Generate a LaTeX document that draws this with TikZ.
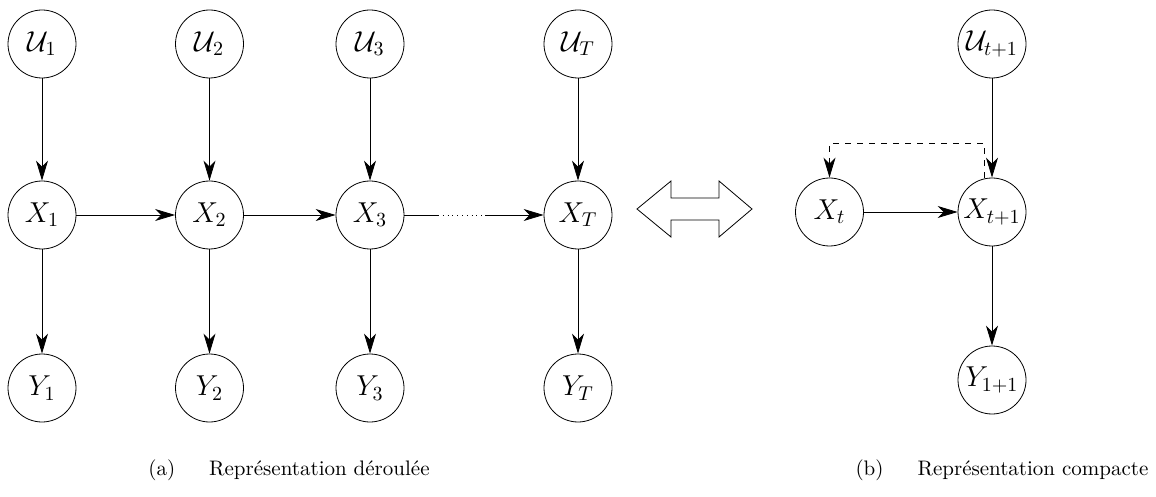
\documentclass[tikz,border=0pt]{standalone}
\usepackage{fontspec}
\usetikzlibrary{arrows.meta}
\begin{document}
\begin{tikzpicture}[x=0.5pt,y=-0.5pt,
    var/.style={draw, circle, minimum size=34pt, inner sep=0pt, font=\Large},
    edge/.style={-{Stealth[length=10pt,width=6pt,inset=3pt]}},
    caption/.style={font=\fontsize{10.5}{12}\selectfont}]
    \useasboundingbox (0,0) rectangle (1156,497);
    % unrolled chain
    \foreach \n/\x/\s in {1/42/1,2/209.5/2,3/370/3,4/578/T} {
        \node[var] (u\n) at (\x,44) {$\mathcal{U}_\s$};
        \node[var] (x\n) at (\x,215) {$X_\s$};
        \node[var] (y\n) at (\x,388) {$Y_\s$};
        \draw[edge] (u\n) -- (x\n);
        \draw[edge] (x\n) -- (y\n);
    }
    \draw[edge] (x1) -- (x2);
    \draw[edge] (x2) -- (x3);
    \coordinate (d1) at (438,215);
    \coordinate (d2) at (485,215);
    \draw (x3) -- (d1);
    \draw[dotted] (d1) -- (d2);
    \draw[edge] (d2) -- (x4);
    % double arrow
    \draw (637,209) -- (671,181) -- (671,198) -- (719,198) -- (719,181)
        -- (752,209) -- (719,237) -- (719,220) -- (671,220) -- (671,237) -- cycle;
    % compact form
    \node[var] (xt) at (829.5,212) {$X_t$};
    \node[var] (xt1) at (992,212) {$X_{t+1}$};
    \node[var] (ut1) at (992,44) {$\mathcal{U}_{t+1}$};
    \node[var] (yt1) at (992,380) {$Y_{1+1}$};
    \draw[edge] (xt) -- (xt1);
    \draw[edge] (ut1) -- (xt1);
    \draw[edge] (xt1) -- (yt1);
    \coordinate (dc) at (829.5,143);
    \draw[edge, dashed] ([xshift=-4pt]xt1.north) |- (dc) -- (xt);
    % captions
    \node[caption] (capa) at (289,470) {(a)\hspace{17pt}Représentation déroulée};
    \node[caption] (capb) at (1002,470) {(b)\hspace{17pt}Représentation compacte};
\end{tikzpicture}
\end{document}
